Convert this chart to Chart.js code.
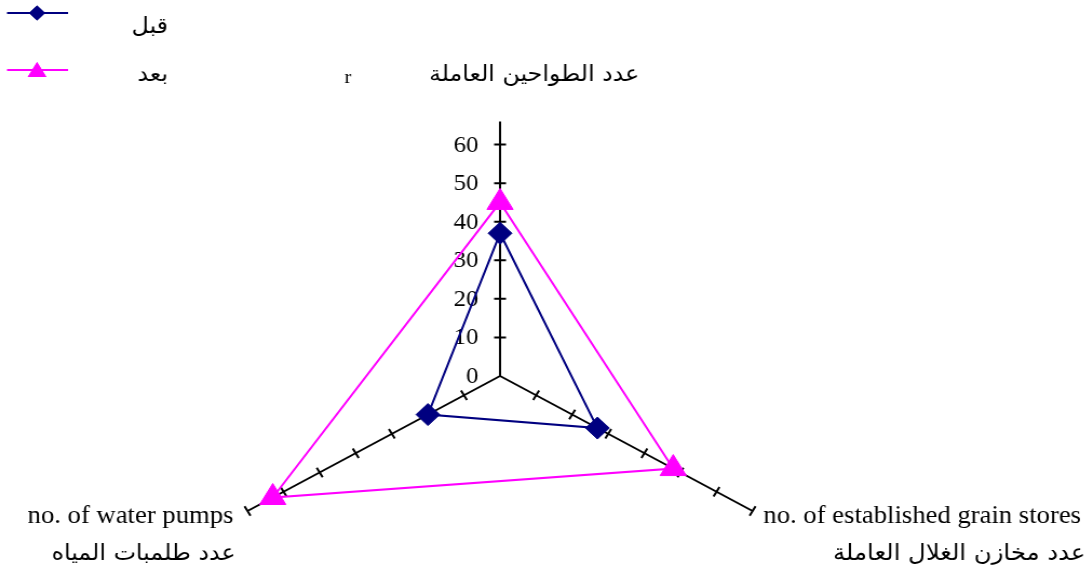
<!DOCTYPE html>
<html>
<head>
<meta charset="utf-8">
<script src="https://cdn.jsdelivr.net/npm/chart.js@4/dist/chart.umd.min.js"></script>
<style>
  html, body { margin: 0; padding: 0; background: #fff; overflow: hidden; width: 1090px; height: 576px; }
  #wrap { position: absolute; left: 0; top: 0; width: 1010px; height: 760px; transform: scaleX(1.08); transform-origin: 0 0; }
</style>
</head>
<body>
<div id="wrap"><canvas id="c"></canvas></div>
<script>
// Axis names (Arabic) and their English captions
const categories = ['عدد الطواحين العاملة', 'عدد مخازن الغلال العاملة', 'عدد طلمبات المياه'];
const englishNames = ['r', 'no. of established grain stores', 'no. of water pumps'];

// Series
const seriesNames = ['قبل', 'بعد'];
const beforeValues = [37, 27, 20];
const afterValues = [45, 48, 63];

// Scale
const tickValues = [0, 10, 20, 30, 40, 50, 60];
const scaleMax = 70;
const tickStep = 10;
const axisEnds = [66, 70, 70];

const serif = '"Liberation Serif", "Times New Roman", serif';
const arabicFont = '"DejaVu Sans", sans-serif';

// Axes with cross ticks, drawn under the series
const radarAxes = {
  id: 'radarAxes',
  beforeDatasetsDraw(chart) {
    const s = chart.scales.r;
    const ctx = chart.ctx;
    ctx.save();
    ctx.strokeStyle = '#000';
    ctx.lineWidth = 2;
    const half = 5.5;
    axisEnds.forEach((endVal, i) => {
      const c = s.getPointPosition(i, 0);
      const e = s.getPointPosition(i, s.getDistanceFromCenterForValue(endVal));
      ctx.beginPath();
      ctx.moveTo(c.x, c.y);
      ctx.lineTo(e.x, e.y);
      const dx = e.x - c.x, dy = e.y - c.y;
      const len = Math.hypot(dx, dy);
      const px = -dy / len, py = dx / len;
      for (let v = tickStep; v <= endVal; v += tickStep) {
        const p = s.getPointPosition(i, s.getDistanceFromCenterForValue(v));
        ctx.moveTo(p.x - px * half, p.y - py * half);
        ctx.lineTo(p.x + px * half, p.y + py * half);
      }
      ctx.stroke();
    });
    // value labels beside the vertical axis
    ctx.fillStyle = '#000';
    ctx.font = '23px ' + serif;
    ctx.textAlign = 'right';
    ctx.textBaseline = 'middle';
    tickValues.forEach(v => {
      const p = s.getPointPosition(0, s.getDistanceFromCenterForValue(v));
      ctx.fillText(String(v), p.x - 20, p.y + 1);
    });
    ctx.restore();
  },
  afterDraw(chart) {
    const s = chart.scales.r;
    const ctx = chart.ctx;
    const ends = categories.map((_, i) => s.getPointPosition(i, s.getDistanceFromCenterForValue(scaleMax)));
    ctx.save();
    ctx.fillStyle = '#000';
    ctx.textBaseline = 'alphabetic';

    // top axis
    ctx.font = '22px ' + arabicFont;
    ctx.textAlign = 'right';
    ctx.fillText(categories[0], ends[0].x + 129, ends[0].y - 25);
    ctx.font = '19px ' + serif;
    ctx.textAlign = 'left';
    ctx.fillText(englishNames[0], ends[0].x - 144, ends[0].y - 23);

    // lower right axis
    ctx.font = '24.7px ' + serif;
    ctx.textAlign = 'left';
    const enX = ends[1].x + 10;
    const enW = ctx.measureText(englishNames[1]).width;
    ctx.fillText(englishNames[1], enX, ends[1].y + 12);
    ctx.font = '22.5px ' + arabicFont;
    ctx.textAlign = 'right';
    ctx.fillText(categories[1], enX + enW + 4, ends[1].y + 49);

    // lower left axis
    ctx.font = '24.7px ' + serif;
    ctx.textAlign = 'right';
    ctx.fillText(englishNames[2], ends[2].x - 13, ends[2].y + 12);
    ctx.font = '22px ' + arabicFont;
    ctx.fillText(categories[2], ends[2].x - 11, ends[2].y + 49);

    // legend
    const rows = [
      { y: 13, markerY: 13, textY: 33 },
      { y: 70, markerY: 72, textY: 81 }
    ];
    chart.data.datasets.forEach((ds, k) => {
      const r = rows[k];
      ctx.strokeStyle = ds.borderColor;
      ctx.lineWidth = 2;
      ctx.beginPath();
      ctx.moveTo(6.5, r.y);
      ctx.lineTo(63, r.y);
      ctx.stroke();
      ctx.fillStyle = ds.pointBackgroundColor;
      Chart.helpers.drawPoint(ctx, { pointStyle: ds.pointStyle, radius: k === 0 ? 7.5 : 10, borderWidth: 0, rotation: 0 }, 34.3, r.markerY);
      ctx.fill();
      ctx.fillStyle = '#000';
      ctx.font = '22px ' + arabicFont;
      ctx.textAlign = 'right';
      ctx.fillText(ds.label, 155.6, r.textY);
    });
    ctx.restore();
  }
};

new Chart(document.getElementById('c'), {
  type: 'radar',
  data: {
    labels: categories,
    datasets: [
      {
        label: seriesNames[0],
        data: beforeValues,
        borderColor: '#000080',
        backgroundColor: '#000080',
        pointBackgroundColor: '#000080',
        pointBorderColor: '#000080',
        pointBorderWidth: 1,
        borderWidth: 2,
        fill: false,
        pointStyle: 'rectRot',
        pointRadius: 11,
        tension: 0
      },
      {
        label: seriesNames[1],
        data: afterValues,
        borderColor: '#FF00FF',
        backgroundColor: '#FF00FF',
        pointBackgroundColor: '#FF00FF',
        pointBorderColor: '#FF00FF',
        pointBorderWidth: 1,
        borderWidth: 2,
        fill: false,
        pointStyle: 'triangle',
        pointRadius: 14,
        tension: 0
      }
    ]
  },
  options: {
    responsive: true,
    maintainAspectRatio: false,
    animation: false,
    layout: { padding: { left: 193.7, top: 106.1, right: 275.9, bottom: 113.5 } },
    plugins: { legend: { display: false }, tooltip: { enabled: false } },
    scales: {
      r: {
        min: 0,
        max: scaleMax,
        ticks: { display: false, stepSize: tickStep },
        grid: { display: false },
        angleLines: { display: false },
        pointLabels: { display: false }
      }
    }
  },
  plugins: [radarAxes]
});
</script>
</body>
</html>
